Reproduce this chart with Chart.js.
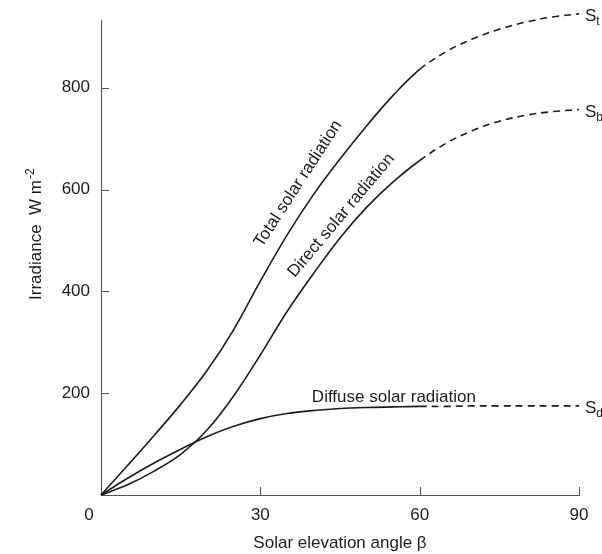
<!DOCTYPE html>
<html>
<head>
<meta charset="utf-8">
<title>Irradiance vs solar elevation</title>
<script src="https://cdn.jsdelivr.net/npm/chart.js@4.4.0/dist/chart.umd.min.js"></script>
<style>
    html, body { margin: 0; padding: 0; background: #fff; }
    canvas { display: block; }
</style>
</head>
<body>
<canvas id="irradianceChart" width="602" height="554"></canvas>
<script>
// Solar elevation angle (degrees)
const angles = [0, 5, 10, 15, 20, 25, 30, 35, 40, 45, 50, 55, 60, 65, 70, 75, 80, 85, 90];
// beyond this angle the curves are drawn dashed
const dashedFrom = 60;

// Irradiance (W m-2)
const totalRadiation = [0, 58, 117, 178, 245, 325, 420, 510, 590, 660, 725, 785, 836, 871, 896, 915, 929, 939, 945];
const directRadiation = [0, 20, 47, 80, 128, 195, 275, 360, 435, 505, 565, 615, 657, 691, 716, 734, 746, 753, 757];
const diffuseRadiation = [0, 33, 63, 90, 115, 135, 150, 160, 166, 170, 172, 173, 174, 174, 175, 175, 175, 175, 175];

// Tick labels
const xTickValues = [0, 30, 60, 90];
const yTickValues = [200, 400, 600, 800];

// End-of-curve symbols
const endLabels = ['t', 'b', 'd'];

const FONT = '"Liberation Sans", Arial, Helvetica, sans-serif';
const INK = '#1c1c1c';

function makeSet(values) {
    return {
        data: angles.map((a, i) => ({ x: a, y: values[i] })),
        borderColor: INK,
        borderWidth: 1.6,
        pointRadius: 0,
        fill: false,
        tension: 0.35,
        clip: false,
        segment: {
            // dashed part past 60 degrees
            borderDash: c => (c.p0.parsed.x >= dashedFrom ? [7, 5] : undefined)
        }
    };
}

// Text on the curves, axis title with superscript, inward tick marks
const decorPlugin = {
    id: 'decor',
    afterDraw(chart) {
        const ctx = chart.ctx;
        const xs = chart.scales.x;
        const ys = chart.scales.y;
        const area = chart.chartArea;
        ctx.save();
        ctx.strokeStyle = '#555';
        ctx.lineWidth = 1;

        // inward tick marks
        xTickValues.forEach(v => {
            if (v === 0) return;
            const px = Math.round(xs.getPixelForValue(v)) + 0.5;
            ctx.beginPath();
            ctx.moveTo(px, area.bottom);
            ctx.lineTo(px, area.bottom - 8);
            ctx.stroke();
        });
        yTickValues.forEach(v => {
            const py = Math.round(ys.getPixelForValue(v)) + 0.5;
            ctx.beginPath();
            ctx.moveTo(area.left, py);
            ctx.lineTo(area.left + 8, py);
            ctx.stroke();
        });

        ctx.fillStyle = INK;
        ctx.font = '17px ' + FONT;

        // the "0" shared by both axes
        ctx.textAlign = 'center';
        ctx.textBaseline = 'alphabetic';
        ctx.fillText('0', xs.getPixelForValue(0) - 12, area.bottom + 25);

        // curve labels
        const curveLabels = [
            { text: 'Total solar radiation', x: 30.3, y: 485, angle: -57 },
            { text: 'Direct solar radiation', x: 36.5, y: 426, angle: -50 },
            { text: 'Diffuse solar radiation', x: 39.7, y: 183, angle: 0 }
        ];
        ctx.textAlign = 'left';
        curveLabels.forEach(l => {
            ctx.save();
            ctx.translate(xs.getPixelForValue(l.x), ys.getPixelForValue(l.y));
            ctx.rotate(l.angle * Math.PI / 180);
            ctx.fillText(l.text, 0, 0);
            ctx.restore();
        });

        // S_t, S_b, S_d at the end of the dashed lines
        const ends = [totalRadiation, directRadiation, diffuseRadiation];
        ends.forEach((arr, i) => {
            const px = xs.getPixelForValue(angles[angles.length - 1]) + 6;
            const py = ys.getPixelForValue(arr[arr.length - 1]) + 7;
            ctx.font = '17px ' + FONT;
            ctx.fillText('S', px, py);
            const w = ctx.measureText('S').width;
            ctx.font = '12px ' + FONT;
            ctx.fillText(endLabels[i], px + w, py + 4);
        });

        // y axis title, rotated, with superscript
        ctx.save();
        ctx.translate(41, 300);
        ctx.rotate(-Math.PI / 2);
        ctx.font = '17px ' + FONT;
        const main = 'Irradiance  W m';
        ctx.fillText(main, 0, 0);
        const mw = ctx.measureText(main).width;
        ctx.font = '12px ' + FONT;
        ctx.fillText('-2', mw + 1, -7);
        ctx.restore();

        ctx.restore();
    }
};

function renderChart() {
    const ctx = document.getElementById('irradianceChart').getContext('2d');
    new Chart(ctx, {
        type: 'line',
        data: {
            datasets: [
                makeSet(totalRadiation),
                makeSet(directRadiation),
                makeSet(diffuseRadiation)
            ]
        },
        options: {
            responsive: false,
            animation: false,
            layout: { padding: { top: 20, right: 23, left: 0, bottom: 0 } },
            plugins: {
                legend: { display: false },
                tooltip: { enabled: false }
            },
            scales: {
                x: {
                    type: 'linear',
                    min: 0,
                    max: 90,
                    grid: { display: false },
                    border: { display: true, color: '#555', width: 1 },
                    afterBuildTicks: scale => { scale.ticks = xTickValues.map(v => ({ value: v })); },
                    afterFit: scale => { scale.height = 59; },
                    ticks: {
                        padding: 2,
                        color: INK,
                        font: { family: FONT, size: 17 },
                        maxRotation: 0,
                        callback: v => (v === 0 ? '' : String(v))
                    },
                    title: {
                        display: true,
                        text: 'Solar elevation angle β',
                        color: INK,
                        font: { family: FONT, size: 17 },
                        padding: { top: 0, bottom: 0 }
                    }
                },
                y: {
                    type: 'linear',
                    min: 0,
                    max: 933,
                    grid: { display: false },
                    border: { display: true, color: '#555', width: 1 },
                    afterBuildTicks: scale => { scale.ticks = yTickValues.map(v => ({ value: v })); },
                    afterFit: scale => { scale.width = 101; },
                    ticks: {
                        padding: 3,
                        color: INK,
                        font: { family: FONT, size: 17 }
                    }
                }
            }
        },
        plugins: [decorPlugin]
    });
}

renderChart();
</script>
</body>
</html>
